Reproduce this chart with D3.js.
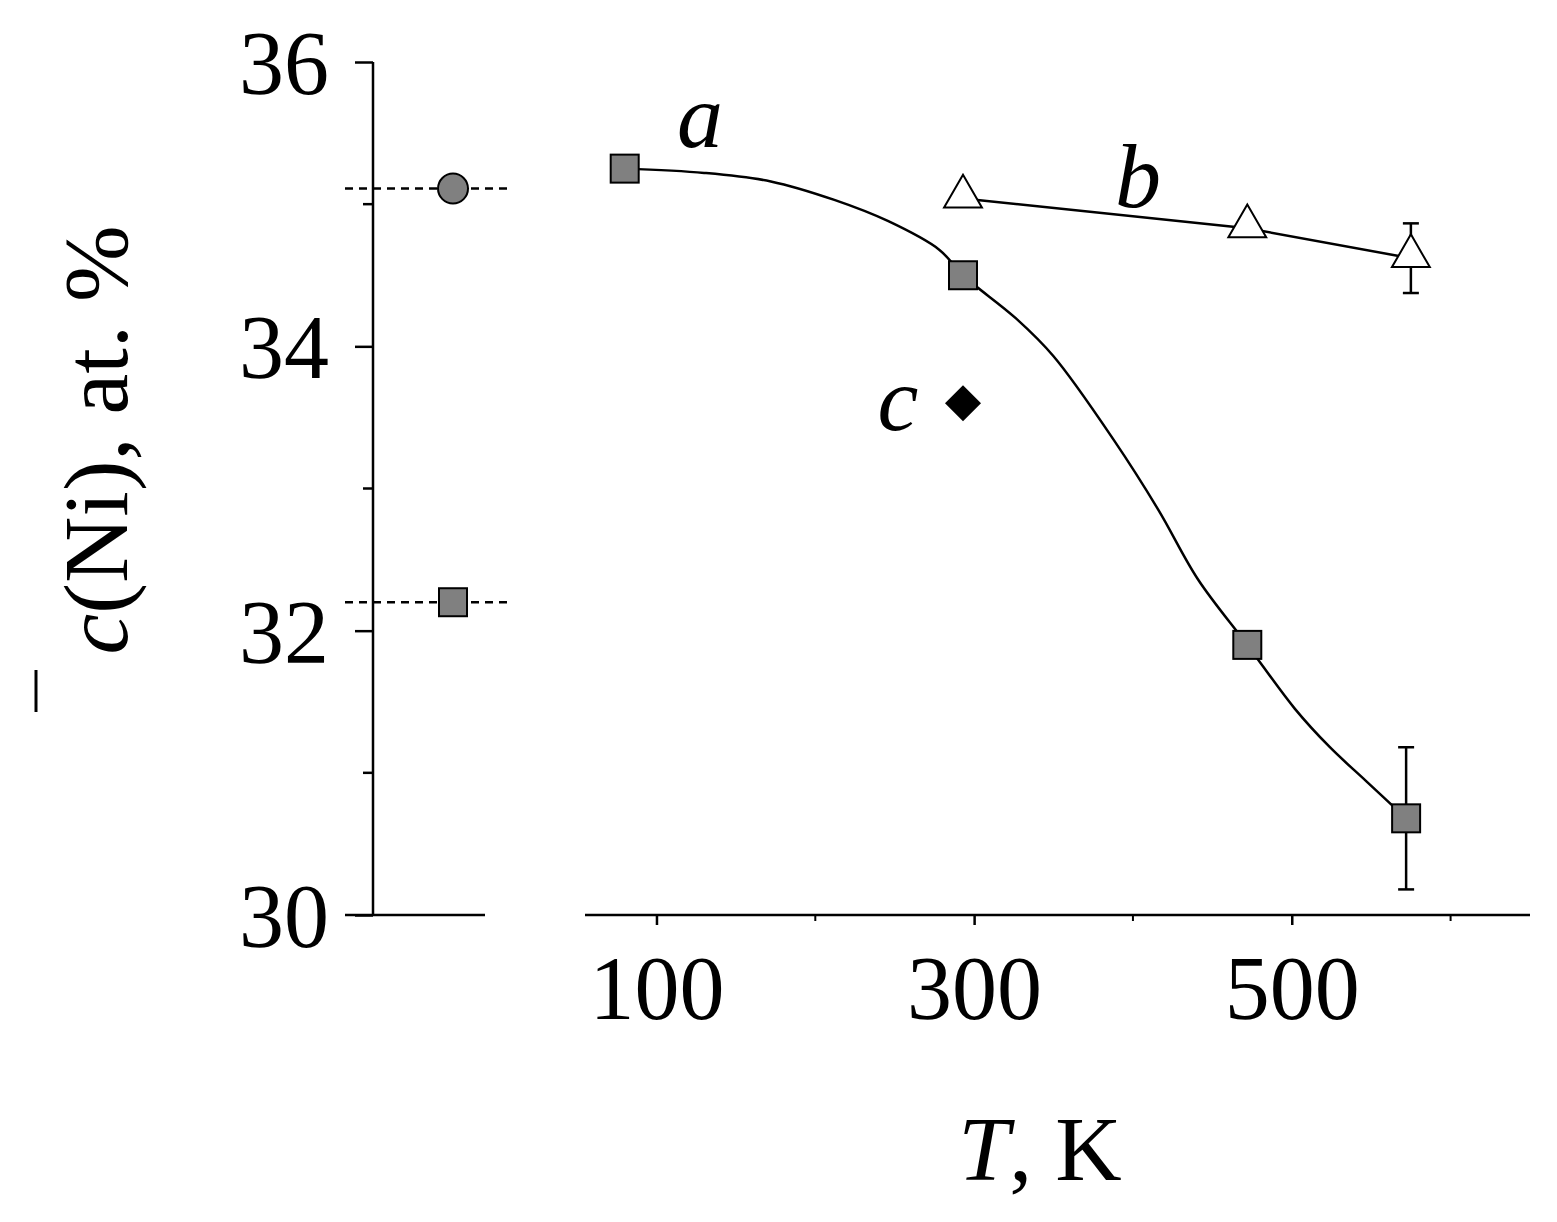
<!DOCTYPE html>
<html><head><meta charset="utf-8">
<script src="https://cdn.jsdelivr.net/npm/d3@7"></script>
<style>body{margin:0;background:#fff}svg{display:block}text{font-family:"Liberation Serif","Times New Roman",serif}</style>
</head><body>
<svg id="chart" width="1557" height="1222"></svg>
<script>
// series a: measured squares
const tempA = [80, 293, 472, 572];
const concA = [35.25, 34.5, 31.9, 30.68];
const errA = [0, 0, 0, 0.5];
// smooth fit through a
const fitT = [80, 130, 172, 212, 246, 278, 293, 326, 350, 388, 416, 441, 472, 502, 524, 547, 572];
const fitC = [35.25, 35.22, 35.16, 35.03, 34.88, 34.68, 34.5, 34.2, 33.93, 33.34, 32.85, 32.36, 31.9, 31.45, 31.18, 30.94, 30.68];
// series b: triangles
const tempB = [293, 472, 575];
const concB = [35.04, 34.83, 34.62];
const errB = [0, 0, 0.245];
// point c
const tempC = [293];
const concC = [33.6];
// reference levels on the left
const refCircle = 35.11;
const refSquare = 32.2;
const xTicks = [100, 300, 500];
const xMinor = [200, 400, 600];
const yTicks = [30, 32, 34, 36];
const yMinor = [31, 33, 35];

const svg = d3.select('#chart');
const x = d3.scaleLinear().domain([55, 650]).range([585, 1530]);
const y = d3.scaleLinear().domain([30, 36]).range([915, 62]);

// left axis
const yAxis = svg.append('g').attr('transform', 'translate(373,0)')
    .call(d3.axisLeft(y).tickValues(yTicks).tickSize(18).tickFormat(d3.format('d')).tickPadding(26));
yAxis.select('.domain').attr('d', `M0,${y(36)}V${y(30)}`);
yAxis.selectAll('text').attr('font-size', 90).attr('dy', '0.35em');
yAxis.selectAll('line, path').attr('stroke-width', 2.5);
svg.append('g').attr('transform', 'translate(373,0)')
    .selectAll('line').data(yMinor).join('line')
    .attr('x1', -10).attr('x2', 0).attr('y1', d => y(d)).attr('y2', d => y(d))
    .attr('stroke', '#000').attr('stroke-width', 2.5);
svg.append('line').attr('x1', 345).attr('x2', 485).attr('y1', 915).attr('y2', 915)
    .attr('stroke', '#000').attr('stroke-width', 2.5);

// bottom axis
const xAxis = svg.append('g').attr('transform', 'translate(0,915)')
    .call(d3.axisBottom(x).tickValues(xTicks).tickSize(10).tickPadding(26));
xAxis.select('.domain').attr('d', 'M585,0H1530');
xAxis.selectAll('text').attr('font-size', 90).attr('dy', '0.75em');
xAxis.selectAll('line, path').attr('stroke-width', 2.5);
svg.append('g').attr('transform', 'translate(0,915)')
    .selectAll('line').data(xMinor).join('line')
    .attr('x1', d => x(d)).attr('x2', d => x(d)).attr('y1', 0).attr('y2', 6)
    .attr('stroke', '#000').attr('stroke-width', 2);

// dashed reference lines and markers
[refCircle, refSquare].forEach(v => {
    svg.append('line').attr('x1', 345).attr('x2', 510).attr('y1', y(v)).attr('y2', y(v))
        .attr('stroke', '#000').attr('stroke-width', 2.5).attr('stroke-dasharray', '8,6');
});
svg.append('circle').attr('cx', 453).attr('cy', y(refCircle)).attr('r', 15)
    .attr('fill', '#808080').attr('stroke', '#000').attr('stroke-width', 2);
svg.append('rect').attr('x', 453 - 14).attr('y', y(refSquare) - 14).attr('width', 28).attr('height', 28)
    .attr('fill', '#808080').attr('stroke', '#000').attr('stroke-width', 2);

// fit curve a
svg.append('path').datum(fitT.map((t, i) => [t, fitC[i]]))
    .attr('d', d3.line().x(d => x(d[0])).y(d => y(d[1])).curve(d3.curveCatmullRom))
    .attr('fill', 'none').attr('stroke', '#000').attr('stroke-width', 2.5);
// line b
svg.append('path').datum(tempB.map((t, i) => [t, concB[i]]))
    .attr('d', d3.line().x(d => x(d[0])).y(d => y(d[1])))
    .attr('fill', 'none').attr('stroke', '#000').attr('stroke-width', 2.5);

// error bars
function errBars(ts, cs, es) {
    ts.forEach((t, i) => {
        if (!es[i]) return;
        const g = svg.append('g').attr('stroke', '#000').attr('stroke-width', 2.5);
        g.append('line').attr('x1', x(t)).attr('x2', x(t)).attr('y1', y(cs[i] + es[i])).attr('y2', y(cs[i] - es[i]));
        [cs[i] + es[i], cs[i] - es[i]].forEach(v =>
            g.append('line').attr('x1', x(t) - 8).attr('x2', x(t) + 8).attr('y1', y(v)).attr('y2', y(v)));
    });
}
errBars(tempA, concA, errA);
errBars(tempB, concB, errB);

// markers
svg.selectAll('.sqA').data(tempA).join('rect')
    .attr('x', d => x(d) - 14).attr('y', (d, i) => y(concA[i]) - 14)
    .attr('width', 28).attr('height', 28)
    .attr('fill', '#808080').attr('stroke', '#000').attr('stroke-width', 2);
const tri = d3.symbol().type(d3.symbolTriangle).size(620);
svg.selectAll('.triB').data(tempB).join('path')
    .attr('d', tri).attr('transform', (d, i) => `translate(${x(d)},${y(concB[i]) - 2})`)
    .attr('fill', '#fff').attr('stroke', '#000').attr('stroke-width', 2);
svg.selectAll('.dC').data(tempC).join('path')
    .attr('d', 'M0,-18L18,0L0,18L-18,0Z')
    .attr('transform', (d, i) => `translate(${x(d)},${y(concC[i])})`)
    .attr('fill', '#000');

// labels
const lab = (t, xx, yy) => svg.append('text').attr('x', xx).attr('y', yy).attr('font-size', 92)
    .attr('font-style', 'italic').attr('text-anchor', 'middle').text(t);
lab('a', 700, 147);
lab('b', 1138, 207);
lab('c', 898, 430);

// axis titles
svg.append('text').attr('x', 1040).attr('y', 1180).attr('font-size', 92).attr('text-anchor', 'middle')
    .html('<tspan font-style="italic">T</tspan>, K');
const yt = svg.append('text').attr('transform', 'translate(127,440) rotate(-90)')
    .attr('font-size', 92).attr('text-anchor', 'middle');
yt.append('tspan').attr('font-style', 'italic').text('c');
yt.append('tspan').text('(Ni), at. %');
svg.append('line').attr('x1', 36).attr('x2', 36).attr('y1', 670).attr('y2', 712)
    .attr('stroke', '#000').attr('stroke-width', 3);
</script>
</body></html>
